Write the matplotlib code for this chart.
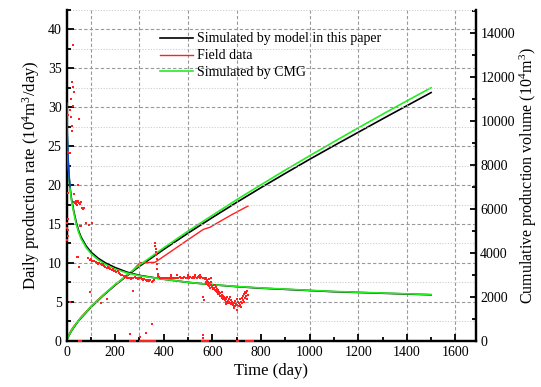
import matplotlib
matplotlib.use("Agg")
import matplotlib.pyplot as plt
from matplotlib.ticker import MultipleLocator

plt.rcParams['font.family'] = ['Liberation Serif', 'DejaVu Serif']
plt.rcParams['mathtext.fontset'] = 'custom'
plt.rcParams['mathtext.rm'] = 'Liberation Serif'
plt.rcParams['mathtext.it'] = 'Liberation Serif:italic'

# ---------------- data ----------------
# Daily production rate (10^4 m3/day), model of this paper
t_model = [0, 2, 5, 10, 14, 20, 30, 40, 50, 60, 80, 100, 130, 160, 200, 250, 300,
           400, 500, 600, 700, 800, 900, 1000, 1100, 1200, 1300, 1400, 1500]
rate_model = [30.5, 27.0, 24.0, 21.2, 19.8, 18.3, 16.6, 15.2, 14.1, 13.3, 12.2, 11.4,
              10.6, 10.0, 9.4, 8.8, 8.4, 7.9, 7.5, 7.2, 6.95, 6.75, 6.6, 6.45, 6.3,
              6.2, 6.1, 6.0, 5.9]
# Daily production rate, CMG
rate_cmg = [30.5, 27.0, 24.0, 21.0, 19.6, 18.1, 16.4, 15.0, 13.9, 13.1, 12.0, 11.2,
            10.4, 9.8, 9.2, 8.7, 8.35, 7.9, 7.5, 7.2, 6.97, 6.78, 6.63, 6.48, 6.33,
            6.23, 6.13, 6.03, 5.93]
# early segment drawn in blue
t_early = [0, 3, 7, 11, 14]
rate_early = [30.5, 26.5, 23.0, 21.0, 19.8]

# Cumulative production (10^4 m3)
t_cum = [0, 5, 10, 20, 40, 60, 100, 150, 200, 250, 300, 400, 500, 600, 700, 800,
         900, 1000, 1100, 1200, 1300, 1400, 1500]
cum_model = [0, 130, 245, 440, 770, 1040, 1520, 2050, 2530, 2970, 3390, 4160, 4900,
             5610, 6300, 6970, 7620, 8260, 8880, 9490, 10100, 10700, 11300]
cum_cmg = [0, 135, 255, 455, 790, 1060, 1540, 2070, 2560, 3010, 3440, 4230, 4990,
           5710, 6420, 7100, 7770, 8420, 9060, 9690, 10310, 10920, 11520]

# Field cumulative
t_cum_field = [0, 10, 20, 30, 40, 60, 80, 100, 130, 160, 200, 230, 250, 268, 285,
               302, 330, 364, 400, 450, 500, 563, 590, 620, 680, 741, 748]
cum_field = [0, 290, 500, 660, 800, 1080, 1320, 1560, 1880, 2170, 2550, 2800, 2980,
             3140, 3350, 3550, 3560, 3570, 3840, 4220, 4600, 5070, 5165, 5360, 5740,
             6100, 6140]

# Field daily rate (scatter)
t_field = [
    # early scattered
    25, 23, 25, 29, 20, 25, 14, 8, 17, 50, 24, 23, 8, 14, 46, 31,
    8, 1, 1, 1, 7, 6, 7, 80, 94, 104, 49, 51, 42,
    30, 35, 38, 40, 42, 45, 48, 52, 55, 58, 62, 66, 72, 55, 60,
    # band 1
    90, 95, 100, 105, 110, 115, 120, 125, 130, 135, 140, 145, 150, 155, 160, 165,
    170, 175, 180, 185, 190, 195, 200, 205, 210, 215, 220, 225, 230, 235, 240,
    245, 250, 255, 260, 265, 270, 275, 280, 285, 290, 295, 300, 305, 310, 315,
    320, 325, 330, 335, 340, 345, 350, 355, 360,
    # spike
    365, 366, 367, 368, 369, 371, 372, 373, 375, 378,
    # band 2
    380, 385, 390, 395, 400, 405, 410, 415, 420, 425, 430, 435, 440, 445, 450,
    455, 460, 465, 470, 475, 480, 485, 490, 495, 500, 505, 510, 515, 520, 525,
    530, 535, 540, 545, 550, 555, 560, 565, 430, 455, 500, 530, 548,
    # decline
    570, 572, 575, 578, 580, 583, 585, 588, 590, 593, 595, 598, 600, 603, 605,
    608, 610, 613, 615, 618, 620, 623, 625, 628, 630, 633, 635, 638, 640, 643,
    645, 648, 650, 653, 655, 658, 660, 663, 665, 668, 670, 673, 675, 678, 680,
    683, 685, 688, 690, 693, 695, 698, 700, 703, 705, 708, 710, 713, 715, 718,
    720, 723, 725, 728, 730, 733, 735, 738, 740, 743, 745, 575, 585, 595,
    # extra scatter in decline
    612, 627, 641, 657, 672, 687, 702, 716, 731, 742,
    # outliers
    97, 165, 275, 350, 326, 261, 302, 563, 566, 560, 563, 14, 141,
    # zeros
    50, 55, 60, 261, 265, 270, 275, 280, 302, 306, 310, 314, 318, 322, 326, 330,
    334, 338, 342, 346, 350, 354, 358, 362, 556, 560, 564, 568, 572, 576, 580,
    700, 705, 740, 744, 748, 752, 756, 760, 764, 768,
]
rate_field = [
    38.0, 33.2, 32.6, 31.9, 31.0, 30.1, 29.6, 29.0, 28.8, 28.5, 27.6, 27.0, 24.3, 24.1, 20.0, 18.9,
    19.0, 15.1, 14.5, 13.0, 15.7, 14.2, 13.4, 15.1, 14.9, 15.1, 10.8, 9.5, 10.8,
    17.8, 17.7, 17.9, 17.6, 17.8, 17.5, 17.9, 17.7, 17.6, 17.8, 17.0, 16.9, 17.0, 14.8, 14.7,
    10.6, 10.4, 10.5, 10.3, 10.2, 10.3, 10.1, 10.0, 9.9, 10.0, 9.8, 9.7, 9.8, 9.6, 9.5, 9.4,
    9.5, 9.3, 9.2, 9.1, 9.2, 9.0, 8.9, 8.8, 8.9, 8.7, 8.6, 8.5, 8.4, 8.3, 8.2,
    8.3, 8.1, 8.0, 8.1, 7.9, 8.0, 8.1, 8.2, 8.0, 8.1, 7.9, 8.0, 8.1, 7.9, 7.8,
    7.9, 7.8, 7.7, 7.8, 7.7, 7.8, 7.6, 7.7, 7.8,
    12.5, 12.2, 11.8, 11.4, 11.0, 10.5, 9.8, 9.2, 8.6, 8.3,
    8.2, 8.1, 8.0, 8.1, 8.0, 8.1, 8.0, 8.1, 8.1, 8.0, 8.2, 8.1, 8.0, 8.1, 8.1,
    8.0, 8.1, 8.2, 8.1, 8.1, 8.0, 8.2, 8.1, 8.1, 8.2, 8.1, 8.2, 8.1, 8.2, 8.1,
    8.2, 8.1, 8.2, 8.3, 8.1, 8.2, 8.1, 8.0, 8.5, 8.4, 8.4, 8.5, 8.4,
    7.9, 7.6, 7.3, 7.8, 7.2, 7.5, 7.0, 7.4, 6.8, 7.2, 7.6, 7.0, 6.9, 6.6, 7.1,
    6.8, 6.5, 6.9, 6.4, 6.7, 6.2, 6.5, 6.0, 6.3, 5.8, 6.1, 5.7, 5.9, 5.5, 5.8,
    5.4, 5.6, 5.2, 5.5, 5.0, 5.3, 5.6, 5.1, 4.9, 5.3, 5.0, 4.8, 5.2, 4.7, 5.0,
    4.6, 4.9, 4.5, 4.8, 5.1, 4.4, 4.7, 3.9, 4.6, 5.0, 4.5, 4.8, 5.3, 4.6, 5.0,
    5.5, 4.8, 5.8, 5.2, 6.0, 5.5, 6.3, 5.7, 6.1, 5.4, 5.9, 8.0, 7.9, 8.1,
    7.2, 6.0, 6.3, 4.7, 5.6, 4.2, 5.4, 4.3, 5.0, 6.4,
    6.2, 5.4, 6.4, 2.2, 1.0, 0.8, 0.5, 5.6, 5.2, 0.7, 0.3, 5.0, 4.8,
    0, 0, 0, 0, 0, 0, 0, 0, 0, 0, 0, 0, 0, 0, 0, 0,
    0, 0, 0, 0, 0, 0, 0, 0, 0, 0, 0, 0, 0, 0, 0,
    0, 0, 0, 0, 0, 0, 0, 0, 0, 0,
]

x_ticks = [0, 200, 400, 600, 800, 1000, 1200, 1400, 1600]
left_ticks = [0, 5, 10, 15, 20, 25, 30, 35, 40]
right_ticks = [0, 2000, 4000, 6000, 8000, 10000, 12000, 14000]
vgrid = [100, 300, 500, 700, 1000, 1200, 1400, 1600]

legend_labels = ["Simulated by model in this paper", "Field data", "Simulated by CMG"]

# ---------------- figure ----------------
fig = plt.figure(figsize=(5.41, 3.87), dpi=100)
ax = fig.add_axes([0.123, 0.1196, 0.757, 0.8546])
ax2 = ax.twinx()

ax.set_xlim(0, 1685)
ax.set_ylim(0, 42.5)
ax2.set_ylim(0, 15060)

# grid
for g in vgrid:
    ax.axvline(g, color='#999999', lw=0.8, ls=(0, (3, 2)), zorder=0)
for v in left_ticks:
    ax.axhline(v, color='#999999', lw=0.8, ls=(0, (3, 2)), zorder=0)
for v in [2.5, 7.5, 12.5, 17.5, 22.5, 27.5, 32.5, 37.5, 42.5]:
    ax.axhline(v, color='#cccccc', lw=0.8, ls=(0, (1, 1.5)), zorder=0)

red = '#ff2020'
green = '#22ee22'

# rate curves
l1, = ax.plot(t_model, rate_model, color='black', lw=1.2, zorder=3)
ax.plot(t_field, rate_field, ls='none', marker='s', ms=1.8, mew=0, color=red,
        zorder=4, clip_on=False)
l3, = ax.plot(t_model, rate_cmg, color=green, lw=1.2, zorder=3)
ax.plot(t_early, rate_early, color='#1040d0', lw=1.2, zorder=3)

# cumulative curves
ax2.plot(t_cum, cum_model, color='black', lw=1.2, zorder=3)
l2, = ax2.plot(t_cum_field, cum_field, color=red, lw=1.0, zorder=3)
ax2.plot(t_cum, cum_cmg, color=green, lw=1.2, zorder=3)

# axes styling
for a in (ax, ax2):
    a.spines['top'].set_visible(False)
    for s in ('left', 'right', 'bottom'):
        a.spines[s].set_linewidth(1.6)
ax.set_xticks(x_ticks)
ax.xaxis.set_minor_locator(MultipleLocator(100))
ax.set_yticks(left_ticks)
ax.yaxis.set_minor_locator(MultipleLocator(2.5))
ax2.set_yticks(right_ticks)
ax2.yaxis.set_minor_locator(MultipleLocator(1000))
ax.tick_params(which='both', direction='in', labelsize=10, width=1.3, top=False)
ax.tick_params(which='major', length=5)
ax.tick_params(which='minor', length=3)
ax2.tick_params(which='both', direction='in', labelsize=10, width=1.3, pad=3)
ax2.tick_params(which='major', length=4)
ax2.tick_params(which='minor', length=3)

ax.set_xlabel("Time (day)", fontsize=12, labelpad=3)
ax.set_ylabel("Daily production rate (10$^4$m$^3$/day)", fontsize=12, labelpad=4)
ax2.set_ylabel("Cumulative production volume (10$^4$m$^3$)", fontsize=11.5,
               rotation=90, labelpad=2)

leg = ax.legend([l1, l2, l3], legend_labels, loc='upper left',
                bbox_to_anchor=(0.228, 0.932), frameon=False, fontsize=10,
                handlelength=2.4, handletextpad=0.3, labelspacing=0.28,
                borderpad=0, borderaxespad=0)
ax.set_zorder(ax2.get_zorder() + 1)
ax.patch.set_visible(False)

fig.savefig("out.png", dpi=100)
